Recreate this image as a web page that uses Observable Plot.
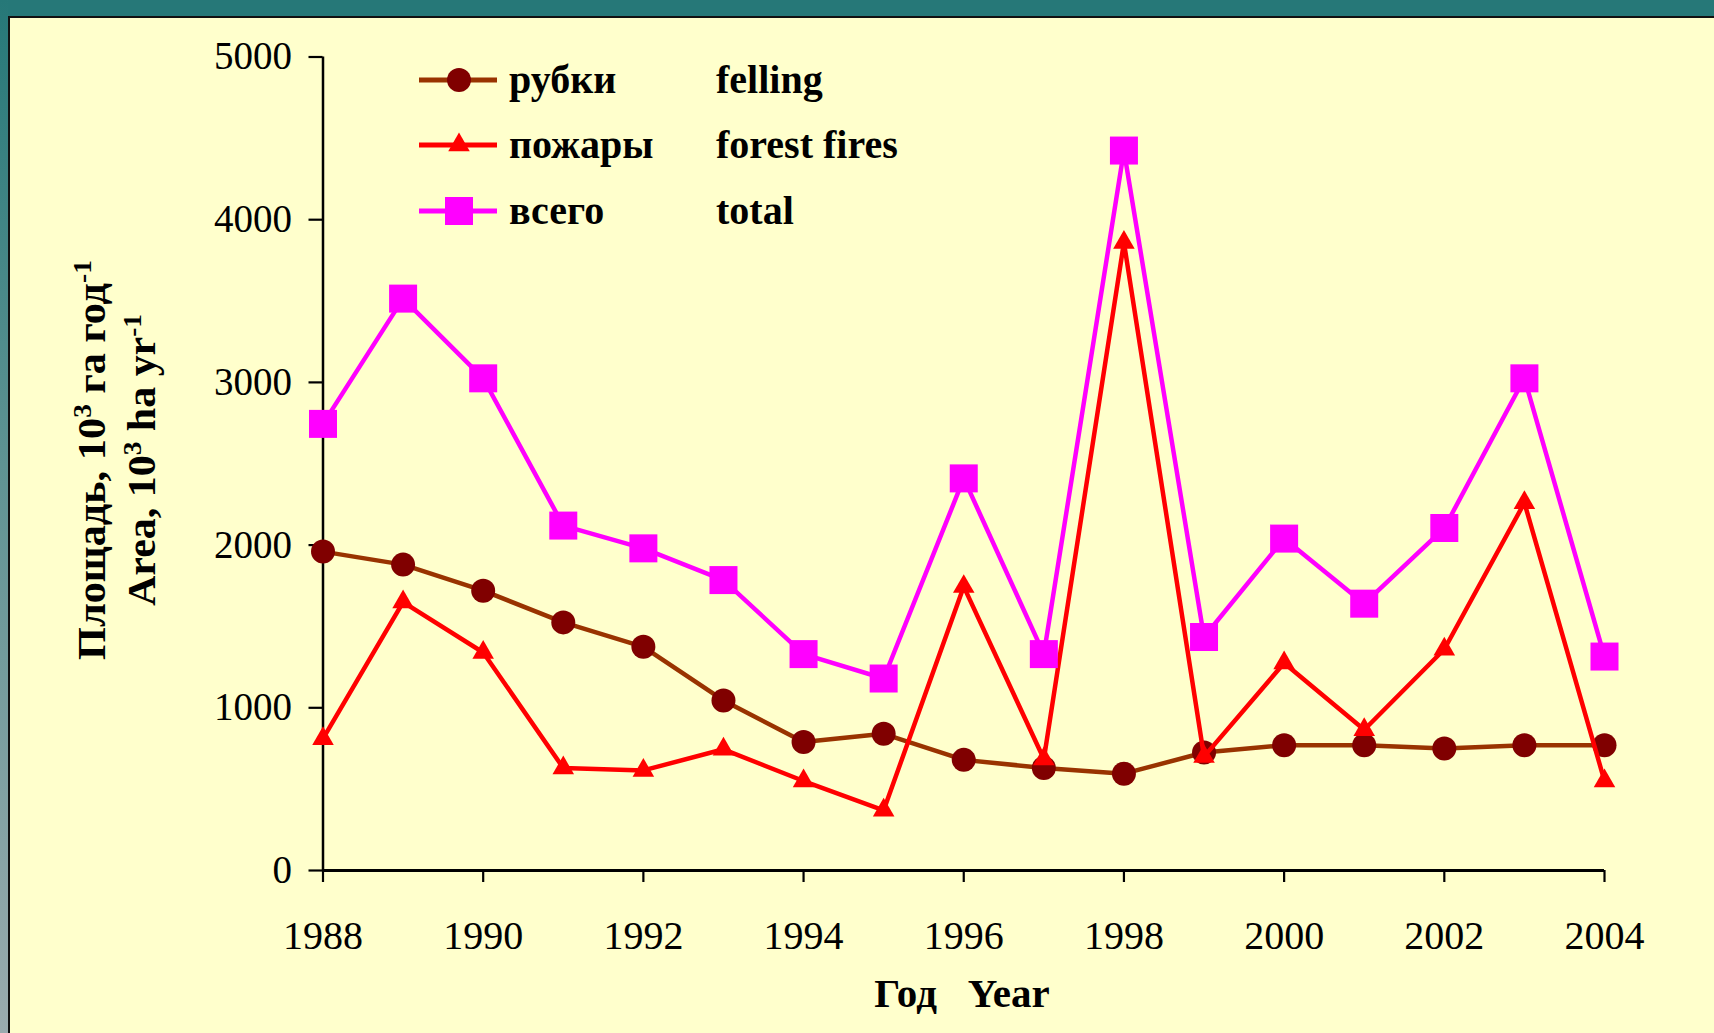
<!DOCTYPE html>
<html>
<head>
<meta charset="utf-8">
<script src="https://cdn.jsdelivr.net/npm/d3@7"></script>
<script src="https://cdn.jsdelivr.net/npm/@observablehq/plot@0.6"></script>
<style>
  html, body { margin: 0; padding: 0; }
  body { width: 1714px; height: 1033px; background: #267878; position: relative; overflow: hidden; }
  #strip { position: absolute; left: 0; top: 0; width: 8px; height: 1033px;
           background: linear-gradient(to bottom, #267878 0%, #5f9393 45%, #9aabae 100%); }
  #panel { position: absolute; left: 8px; top: 16px; width: 1706px; height: 1017px; box-sizing: border-box;
           background: #FFFFCC; border-left: 2px solid #111; border-top: 2px solid #111; }
  #panel svg { display: block; }
</style>
</head>
<body>
<div id="strip"></div>
<div id="panel"></div>
<script>
const years   = [1988,1989,1990,1991,1992,1993,1994,1995,1996,1997,1998,1999,2000,2001,2002,2003,2004];
const felling = [1960,1880,1720,1525,1375,1045, 790, 840, 680, 630, 595, 725, 770, 770, 750, 770, 770];
const fires   = [ 810,1650,1340, 630, 615, 745, 550, 370,1745, 685,3860, 700,1275, 865,1360,2260, 550];
const total   = [2745,3515,3025,2120,1980,1785,1330,1180,2410,1330,4425,1435,2040,1640,2105,3025,1315];

const xTicks = [1988,1990,1992,1994,1996,1998,2000,2002,2004];
const yTicks = [0,1000,2000,3000,4000,5000];

const seriesNames = [
  {ru: "рубки",  en: "felling",      line: "#993300", fill: "#800000", symbol: "circle",   r: 12},
  {ru: "пожары", en: "forest fires", line: "#FF0000", fill: "#FF0000", symbol: "triangle", r: 8},
  {ru: "всего",  en: "total",        line: "#FF00FF", fill: "#FF00FF", symbol: "square",   r: 15.8}
];
const seriesValues = [felling, fires, total];

const rows = (vals) => years.map((y, i) => ({year: y, value: vals[i]}));

const W = 1704, H = 1015;
const marks = [];
seriesValues.forEach((vals, k) => {
  const s = seriesNames[k];
  marks.push(Plot.line(rows(vals), {x: "year", y: "value", stroke: s.line, strokeWidth: 4.5}));
  marks.push(Plot.dot(rows(vals), {x: "year", y: "value", symbol: s.symbol, r: s.r, fill: s.fill, stroke: "none"}));
});

const chart = Plot.plot({
  width: W, height: H,
  marginLeft: 312.5, marginRight: 110, marginTop: 38.5, marginBottom: 163,
  style: {background: "transparent", fontFamily: "'Liberation Serif', 'Times New Roman', serif", color: "#000", overflow: "visible"},
  x: {domain: [1988, 2004]},
  y: {domain: [0, 5000]},
  marks: [
    Plot.axisY({ticks: yTicks, tickSize: 14, tickPadding: 17, fontSize: 39, strokeWidth: 2.2, label: null, tickFormat: d => String(d)}),
    Plot.axisX({ticks: xTicks, tickSize: 12, tickPadding: 38, fontSize: 40, strokeWidth: 2.2, label: null, tickFormat: d => String(d)}),
    Plot.ruleX([1988], {stroke: "#000", strokeWidth: 2.5}),
    Plot.ruleY([0], {stroke: "#000", strokeWidth: 3}),
    ...marks
  ]
});
document.getElementById("panel").appendChild(chart);

// Extra texts (axis titles and legend), in SVG coordinates (page − (10,18))
const svg = d3.select(chart);
const serif = "'Liberation Serif', 'Times New Roman', serif";

// x-axis title
svg.append("text")
  .attr("x", 952).attr("y", 975).attr("dy", "0.35em")
  .attr("text-anchor", "middle")
  .attr("font-family", serif).attr("font-weight", "bold").attr("font-size", 41)
  .attr("xml:space", "preserve")
  .text("Год   Year");

// y-axis title, two rotated lines
function yTitle(xBase, parts, len) {
  const t = svg.append("text")
    .attr("transform", `translate(${xBase},442) rotate(-90)`)
    .attr("text-anchor", "middle")
    .attr("font-family", serif).attr("font-weight", "bold").attr("font-size", 40)
    .attr("textLength", len).attr("lengthAdjust", "spacingAndGlyphs");
  parts.forEach(p => {
    const ts = t.append("tspan").text(p.t);
    if (p.sup) ts.attr("baseline-shift", "super").attr("font-size", 26);
  });
}
yTitle(95, [{t: "Площадь, 10"}, {t: "3", sup: true}, {t: " га год"}, {t: "-1", sup: true}], 400);
yTitle(145, [{t: "Area, 10"}, {t: "3", sup: true}, {t: " ha yr"}, {t: "-1", sup: true}], 292);

// legend
const legY = [62, 127, 193];
seriesNames.forEach((s, k) => {
  const g = svg.append("g").attr("transform", `translate(0,${legY[k]})`).attr("text-anchor", "start");
  g.append("line").attr("x1", 409).attr("x2", 487).attr("y1", 0).attr("y2", 0)
    .attr("stroke", s.line).attr("stroke-width", 5);
  const sym = {circle: d3.symbolCircle, triangle: d3.symbolTriangle, square: d3.symbolSquare}[s.symbol];
  g.append("path").attr("transform", "translate(449,0)")
    .attr("d", d3.symbol(sym, Math.PI * s.r * s.r)()).attr("fill", s.fill);
  g.append("text").attr("x", 499).attr("dy", "0.33em").attr("text-anchor", "start")
    .attr("font-family", serif).attr("font-weight", "bold").attr("font-size", 40).text(s.ru);
  g.append("text").attr("x", 706).attr("dy", "0.33em").attr("text-anchor", "start")
    .attr("font-family", serif).attr("font-weight", "bold").attr("font-size", 40).text(s.en);
});
</script>
</body>
</html>
